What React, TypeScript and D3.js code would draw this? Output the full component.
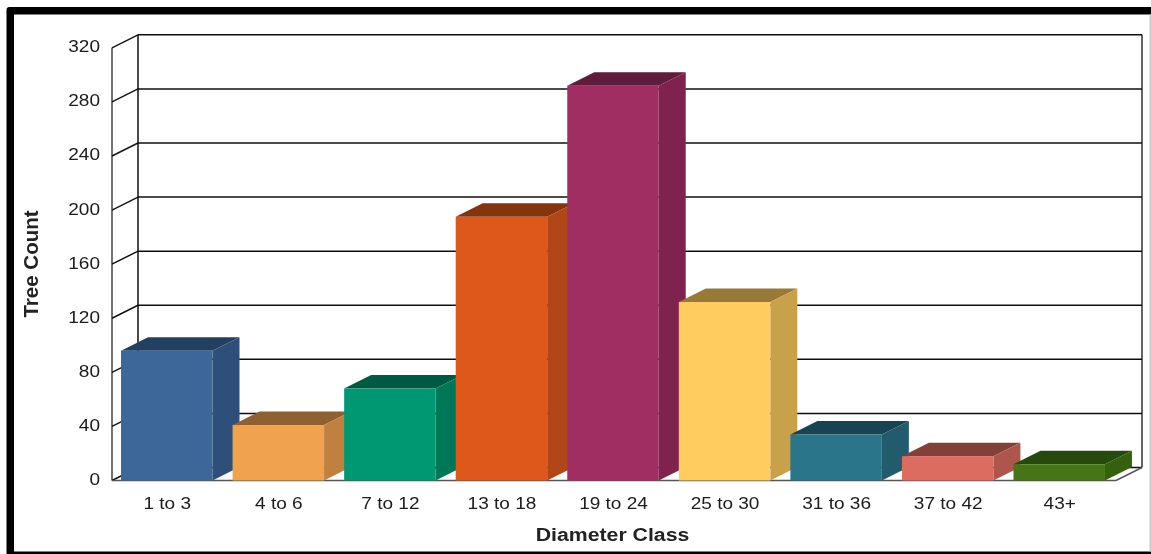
import React from "react";
import * as d3 from "d3";

const categories = ["1 to 3", "4 to 6", "7 to 12", "13 to 18", "19 to 24", "25 to 30", "31 to 36", "37 to 42", "43+"];
const treeCounts = [96, 41, 68, 195, 292, 132, 34, 18, 12];
const frontColors = ["#3c6699", "#f0a250", "#009872", "#de581e", "#a02d62", "#ffcc5f", "#297489", "#dc6c60", "#447512"];
const sideColors = ["#2e5079", "#bf8041", "#007859", "#b04617", "#7f244e", "#caa14b", "#205c6c", "#ae564c", "#35600e"];
const topColors = ["#243f60", "#8f6030", "#005a43", "#853410", "#5f1b3a", "#987a38", "#184551", "#834039", "#284808"];
const yTicks = [0, 40, 80, 120, 160, 200, 240, 280, 320];

const W = 1151, H = 554;
const DX = 26, DY = -13;
const BAR_DX = 27, BAR_DY = -13.5;
const frontLeft = 112, frontRight = 1116, frontBase = 480.5, frontTop = 47.8;
const STRETCH = 1.12;

export default function App() {
  const y = d3.scaleLinear().domain([0, 320]).range([frontBase, frontTop]);
  const x = d3.scaleBand<string>().domain(categories).range([frontLeft - 1, frontRight - 1]).paddingInner(0.18).paddingOuter(0.09);
  const backLeft = frontLeft + DX, backRight = frontRight + DX;
  const poly = (pts: [number, number][]) => pts.map((p) => p.join(",")).join(" ");
  const font = "'Liberation Sans', Arial, sans-serif";
  return (
    <svg width={W} height={H} viewBox={`0 0 ${W} ${H}`} style={{ position: "fixed", left: 0, top: 0, background: "#fff", display: "block" }} fontFamily={font}>
      <defs>
        <filter id="soft" x="0" y="0" width="100%" height="100%">
          <feGaussianBlur stdDeviation="0.4" />
        </filter>
      </defs>
      <rect x={0} y={0} width={W} height={H} fill="#fff" />
      <g filter="url(#soft)">
        <rect x={6.5} y={7} width={W} height={H} rx={3} fill="#000" />
        <rect x={14} y={14.5} width={W} height={537} fill="#fff" />
        <rect x={1149.5} y={14.5} width={1.5} height={537} fill="#c8c8c8" />

        {/* walls and grid */}
        <g fill="none" stroke="#111" strokeWidth={1.5}>
          <line x1={frontLeft} x2={frontLeft} y1={y(320)} y2={y(0)} stroke="#444" />
          <line x1={backLeft} x2={backLeft} y1={y(320) + DY} y2={y(0) + DY} />
          <line x1={backRight} x2={backRight} y1={y(320) + DY} y2={y(0) + DY} stroke="#333" />
          {yTicks.map((t) => (
            <g key={t}>
              <line x1={frontLeft} x2={backLeft} y1={y(t)} y2={y(t) + DY} />
              <line x1={backLeft} x2={backRight} y1={y(t) + DY} y2={y(t) + DY} />
            </g>
          ))}
          <line x1={frontLeft} x2={frontRight} y1={y(0)} y2={y(0)} stroke="#555" />
          <line x1={frontRight} x2={backRight} y1={y(0)} y2={y(0) + DY} stroke="#555" />
        </g>

        {/* tick labels */}
        <g fontSize={17} fill="#1a1a1a">
          {yTicks.map((t) => (
            <text key={t} transform={`translate(100,${y(t) + 4.5}) scale(${STRETCH},1)`} textAnchor="end">{t}</text>
          ))}
          {categories.map((c) => (
            <text key={c} transform={`translate(${(x(c) as number) + x.bandwidth() / 2 + 0.5},509) scale(${STRETCH},1)`} textAnchor="middle">{c}</text>
          ))}
        </g>

        {/* bars */}
        {categories.map((c, i) => {
          const x0 = x(c) as number, x1 = x0 + x.bandwidth();
          const yTop = y(treeCounts[i]), yBase = y(0);
          return (
            <g key={c}>
              <polygon fill={topColors[i]} points={poly([[x0, yTop], [x1, yTop], [x1 + BAR_DX, yTop + BAR_DY], [x0 + BAR_DX, yTop + BAR_DY]])} />
              <polygon fill={sideColors[i]} points={poly([[x1, yTop], [x1 + BAR_DX, yTop + BAR_DY], [x1 + BAR_DX, yBase + BAR_DY], [x1, yBase]])} />
              <rect x={x0} y={yTop} width={x1 - x0} height={yBase - yTop} fill={frontColors[i]} />
            </g>
          );
        })}

        {/* axis titles */}
        <text transform={`translate(612.5,541) scale(${STRETCH},1)`} textAnchor="middle" fontSize={19} fontWeight="bold" fill="#222">Diameter Class</text>
        <text transform="translate(37.5,264) rotate(-90)" textAnchor="middle" fontSize={20.5} fontWeight="bold" fill="#222">Tree Count</text>
      </g>
    </svg>
  );
}
